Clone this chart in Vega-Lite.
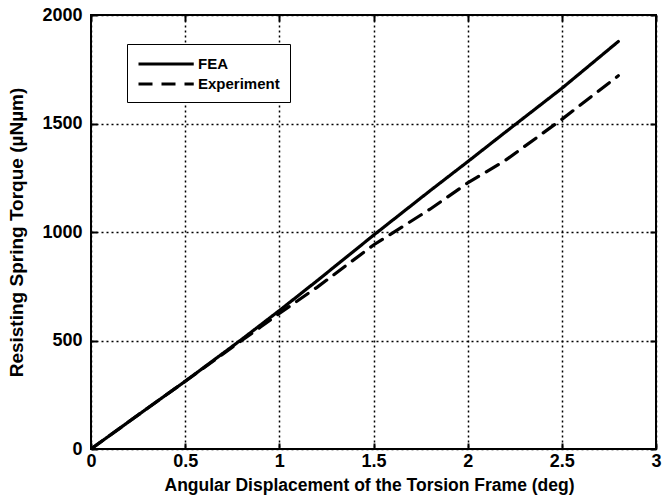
{
  "$schema": "https://vega.github.io/schema/vega-lite/v6.json",
  "width": 565,
  "height": 434,
  "autosize": {"type": "none"},
  "padding": {"left": 91, "top": 15, "right": 8, "bottom": 51},
  "background": "white",
  "config": {
    "view": {"stroke": "black", "strokeWidth": 2},
    "font": "Liberation Sans"
  },
  "data": {
    "values": [
      {"x": 0, "y": 0, "series": "FEA"},
      {"x": 0.3, "y": 188, "series": "FEA"},
      {"x": 0.5, "y": 312, "series": "FEA"},
      {"x": 0.8, "y": 505, "series": "FEA"},
      {"x": 1.0, "y": 638, "series": "FEA"},
      {"x": 1.2, "y": 775, "series": "FEA"},
      {"x": 1.5, "y": 985, "series": "FEA"},
      {"x": 1.8, "y": 1190, "series": "FEA"},
      {"x": 2.0, "y": 1324, "series": "FEA"},
      {"x": 2.2, "y": 1460, "series": "FEA"},
      {"x": 2.5, "y": 1662, "series": "FEA"},
      {"x": 2.8, "y": 1878, "series": "FEA"},
      {"x": 0, "y": 0, "series": "Experiment"},
      {"x": 0.3, "y": 188, "series": "Experiment"},
      {"x": 0.5, "y": 312, "series": "Experiment"},
      {"x": 0.8, "y": 500, "series": "Experiment"},
      {"x": 0.9, "y": 562, "series": "Experiment"},
      {"x": 1.0, "y": 625, "series": "Experiment"},
      {"x": 1.2, "y": 745, "series": "Experiment"},
      {"x": 1.5, "y": 940, "series": "Experiment"},
      {"x": 1.8, "y": 1105, "series": "Experiment"},
      {"x": 2.0, "y": 1226, "series": "Experiment"},
      {"x": 2.2, "y": 1330, "series": "Experiment"},
      {"x": 2.5, "y": 1519, "series": "Experiment"},
      {"x": 2.8, "y": 1720, "series": "Experiment"}
    ]
  },
  "resolve": {"axis": {"x": "independent", "y": "independent"}},
  "layer": [
    {
      "mark": {"type": "line", "color": "black", "strokeOpacity": 0},
      "encoding": {
        "detail": {"field": "series", "type": "nominal"},
        "x": {
          "field": "x", "type": "quantitative",
          "scale": {"domain": [0, 3], "nice": false, "zero": true},
          "axis": {
            "orient": "top", "title": null, "labels": false, "domain": false, "grid": false,
            "values": [0, 0.5, 1, 1.5, 2, 2.5, 3],
            "ticks": true, "tickSize": -6, "tickColor": "black", "tickWidth": 2
          }
        },
        "y": {
          "field": "y", "type": "quantitative",
          "scale": {"domain": [0, 2000], "nice": false},
          "axis": {
            "orient": "right", "title": null, "labels": false, "domain": false, "grid": false,
            "values": [0, 500, 1000, 1500, 2000],
            "ticks": true, "tickSize": -6, "tickColor": "black", "tickWidth": 2
          }
        }
      }
    },
    {
      "mark": {"type": "line", "color": "black", "strokeWidth": 3.2, "strokeCap": "round", "clip": true},
      "encoding": {
        "x": {
          "field": "x", "type": "quantitative",
          "scale": {"domain": [0, 3], "nice": false, "zero": true},
          "axis": {
            "orient": "bottom",
            "title": "Angular Displacement of the Torsion Frame (deg)",
            "values": [0, 0.5, 1, 1.5, 2, 2.5, 3],
            "format": "~g",
            "labelFlush": false,
            "labelFont": "Liberation Sans", "labelFontWeight": "bold", "labelFontSize": 18, "labelColor": "black", "labelPadding": 9,
            "titleFont": "Liberation Sans", "titleFontWeight": "bold", "titleFontSize": 17.5, "titleColor": "black", "titlePadding": 6,
            "titleX": 278,
            "domain": false,
            "ticks": true, "tickSize": -6, "tickColor": "black", "tickWidth": 2,
            "grid": true, "gridColor": "black", "gridDash": [2, 3], "gridWidth": 1.5, "gridOpacity": 1
          }
        },
        "y": {
          "field": "y", "type": "quantitative",
          "scale": {"domain": [0, 2000], "nice": false},
          "axis": {
            "orient": "left",
            "title": "Resisting Spring Torque (µNµm)",
            "values": [0, 500, 1000, 1500, 2000],
            "format": "d",
            "labelFlush": false,
            "labelFont": "Liberation Sans", "labelFontWeight": "bold", "labelFontSize": 18, "labelColor": "black", "labelPadding": 15,
            "titleFont": "Liberation Sans", "titleFontWeight": "bold", "titleFontSize": 19, "titleColor": "black", "titlePadding": 15,
            "domain": false,
            "ticks": true, "tickSize": -6, "tickColor": "black", "tickWidth": 2,
            "grid": true, "gridColor": "black", "gridDash": [2, 3], "gridWidth": 1.5, "gridOpacity": 1
          }
        },
        "strokeDash": {
          "field": "series", "type": "nominal",
          "scale": {"domain": ["FEA", "Experiment"], "range": [[1, 0], [14, 9]]},
          "legend": {
            "title": null,
            "orient": "none",
            "legendX": 36,
            "legendY": 29,
            "fillColor": "white",
            "strokeColor": "black",
            "padding": 10,
            "symbolType": "M-1,0H5.5",
            "symbolSize": 289,
            "symbolStrokeColor": "black",
            "symbolStrokeWidth": 3,
            "labelFont": "Liberation Sans", "labelFontWeight": "bold", "labelFontSize": 15, "labelColor": "black",
            "labelOffset": 41,
            "rowPadding": 2,
            "labelLimit": 200
          }
        }
      }
    }
  ]
}
